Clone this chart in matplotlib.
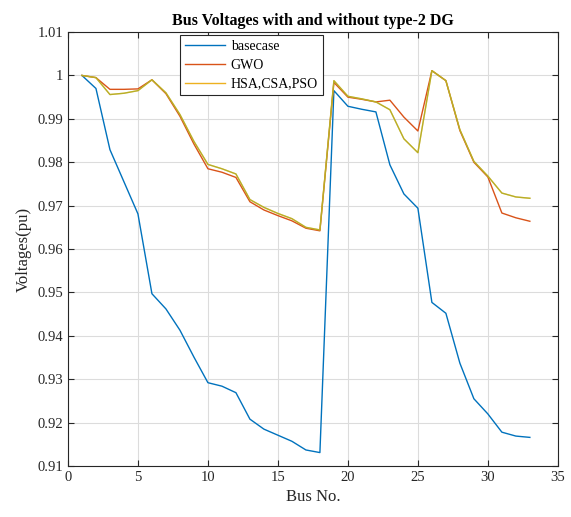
import matplotlib
matplotlib.use("Agg")
import matplotlib.pyplot as plt
import numpy as np

bus = list(range(1, 34))
basecase = [1.0, 0.9970, 0.9829, 0.9755, 0.9681, 0.9497, 0.9462, 0.9413, 0.9351, 0.9292,
            0.9284, 0.9269, 0.9208, 0.9185, 0.9171, 0.9157, 0.9137, 0.9131, 0.9965, 0.9929,
            0.9922, 0.9916, 0.9794, 0.9727, 0.9694, 0.9477, 0.9452, 0.9337, 0.9255, 0.9220,
            0.9178, 0.9169, 0.9166]
gwo = [1.0, 0.9995, 0.9968, 0.9968, 0.9969, 0.9990, 0.9958, 0.9906, 0.9842, 0.9785,
       0.9777, 0.9765, 0.9709, 0.9690, 0.9677, 0.9665, 0.9648, 0.9642, 0.9984, 0.9950,
       0.9945, 0.9939, 0.9943, 0.9904, 0.9872, 1.0011, 0.9988, 0.9873, 0.9800, 0.9766,
       0.9683, 0.9672, 0.9664]
hsa = [1.0, 0.9995, 0.9956, 0.9959, 0.9965, 0.9990, 0.9960, 0.9910, 0.9848, 0.9795,
       0.9785, 0.9773, 0.9714, 0.9696, 0.9682, 0.9670, 0.9650, 0.9644, 0.9988, 0.9952,
       0.9946, 0.9939, 0.9921, 0.9854, 0.9822, 1.0011, 0.9988, 0.9875, 0.9802, 0.9768,
       0.9729, 0.9720, 0.9717]
labels = ["basecase", "GWO", "HSA,CSA,PSO"]

plt.rcParams['font.family'] = ['Liberation Serif', 'DejaVu Serif']
fig = plt.figure(figsize=(5.71, 5.17), dpi=100)
ax = fig.add_axes([0.119, 0.0986, 0.858, 0.8394])

ax.plot(bus, basecase, color='#0072BD', lw=1.0, label=labels[0])
ax.plot(bus, gwo, color='#D95319', lw=1.0, label=labels[1])
ax.plot(bus, hsa, color='#EDB120', lw=1.0, label=labels[2])
ax.plot(bus, hsa, color='#77AC30', lw=1.0, alpha=0.45)

ax.set_xlim(0, 35)
ax.set_ylim(0.91, 1.01)
ax.set_xticks(np.arange(0, 36, 5))
ax.set_yticks(np.round(np.arange(0.91, 1.0101, 0.01), 2))
ax.set_yticklabels(['0.91', '0.92', '0.93', '0.94', '0.95', '0.96', '0.97', '0.98', '0.99', '1', '1.01'])
ax.grid(True, color='#DCDCDC', lw=0.8)
ax.tick_params(direction='in', top=True, right=True, labelsize=10.5, colors='#262626', length=4)
for s in ax.spines.values():
    s.set_color('#262626')
    s.set_linewidth(0.8)

ax.set_title('Bus Voltages with and without type-2 DG', fontsize=11.5, fontweight='bold', pad=5)
ax.set_xlabel('Bus No.', fontsize=12, color='#262626')
ax.set_ylabel('Voltages(pu)', fontsize=12, color='#262626')

leg = ax.legend(loc='upper left', bbox_to_anchor=(0.229, 0.993), fontsize=10,
                frameon=True, fancybox=False, edgecolor='#262626', framealpha=1,
                borderaxespad=0, handlelength=2.9, borderpad=0.35, labelspacing=0.42,
                handletextpad=0.4)
leg.get_frame().set_linewidth(0.8)

fig.savefig('out.png', dpi=100)
